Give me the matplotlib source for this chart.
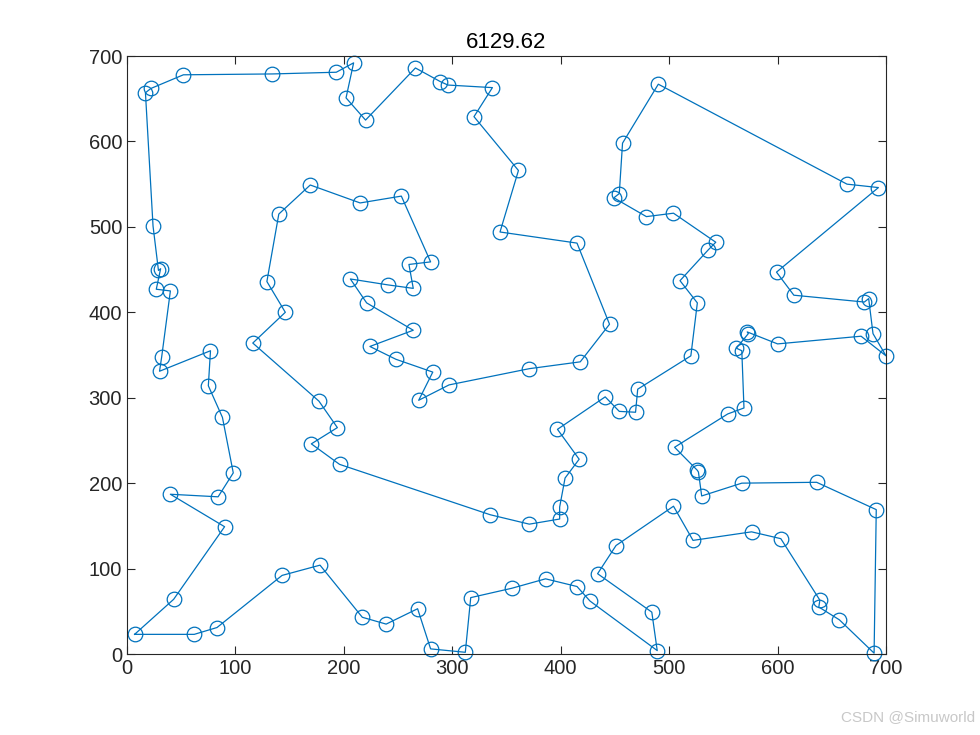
import matplotlib.pyplot as plt

# TSP tour (closed loop, starts bottom-left)
route_x = [7, 43, 90, 40, 84, 98, 88, 75, 77, 30, 32, 40, 27, 31, 29, 24, 17, 22, 52, 134,
           193, 209, 202, 220, 266, 289, 296, 337, 320, 361, 344, 415, 445, 418, 371, 297, 269, 282, 248, 224,
           264, 221, 206, 241, 264, 260, 280, 253, 215, 169, 140, 129, 146, 116, 177, 194, 170, 196, 335, 371,
           399, 399, 404, 417, 397, 441, 454, 469, 471, 520, 526, 510, 536, 543, 504, 479, 449, 454, 457, 490,
           664, 693, 599, 615, 680, 684, 688, 700, 677, 600, 572, 573, 562, 567, 569, 554, 505, 526, 527, 530,
           567, 636, 691, 689, 657, 638, 639, 603, 576, 522, 504, 451, 434, 484, 489, 427, 415, 386, 355, 317,
           312, 280, 268, 239, 217, 178, 143, 83, 62]
route_y = [23, 64, 149, 187, 184, 212, 277, 314, 355, 331, 348, 425, 427, 451, 449, 501, 657, 662, 678, 679,
           681, 692, 651, 625, 686, 670, 666, 663, 629, 566, 494, 481, 386, 342, 334, 315, 297, 330, 345, 360,
           379, 411, 439, 432, 428, 456, 459, 536, 528, 549, 515, 436, 400, 364, 296, 265, 246, 222, 163, 152,
           158, 172, 206, 228, 263, 301, 284, 283, 310, 349, 411, 437, 473, 482, 516, 512, 534, 539, 598, 667,
           550, 546, 447, 420, 412, 416, 375, 349, 372, 363, 377, 375, 358, 355, 288, 281, 242, 215, 213, 185,
           200, 201, 169, 1, 40, 55, 63, 135, 143, 133, 173, 127, 94, 49, 4, 62, 79, 88, 77, 66,
           2, 6, 53, 35, 43, 104, 92, 31, 23]
total_len = "6129.62"

plt.rcParams['font.family'] = ['Liberation Sans', 'DejaVu Sans']

fig = plt.figure(figsize=(9.8, 7.35), dpi=100)
ax = fig.add_axes([0.1296, 0.1102, 0.7745, 0.8136])

xs = route_x + [route_x[0]]
ys = route_y + [route_y[0]]
ax.plot(xs, ys, '-', color='#0072BD', linewidth=0.9, clip_on=False)
ax.plot(route_x, route_y, 'o', color='#0072BD', markerfacecolor='none',
        markersize=10.5, markeredgewidth=0.9, clip_on=False)

ax.set_xlim(0, 700)
ax.set_ylim(0, 700)
ax.set_xticks(range(0, 701, 100))
ax.set_yticks(range(0, 701, 100))
ax.tick_params(direction='in', top=True, right=True, labelsize=14.5, length=6, width=0.8, colors='#262626')
for s in ax.spines.values():
    s.set_linewidth(0.8)
    s.set_color('#262626')
ax.set_title(total_len, fontsize=16, pad=6)

fig.text(0.995, 0.025, "CSDN @Simuworld", ha='right', va='center', fontsize=11, color='#c8c8c8')

fig.savefig("out.png", dpi=100)
